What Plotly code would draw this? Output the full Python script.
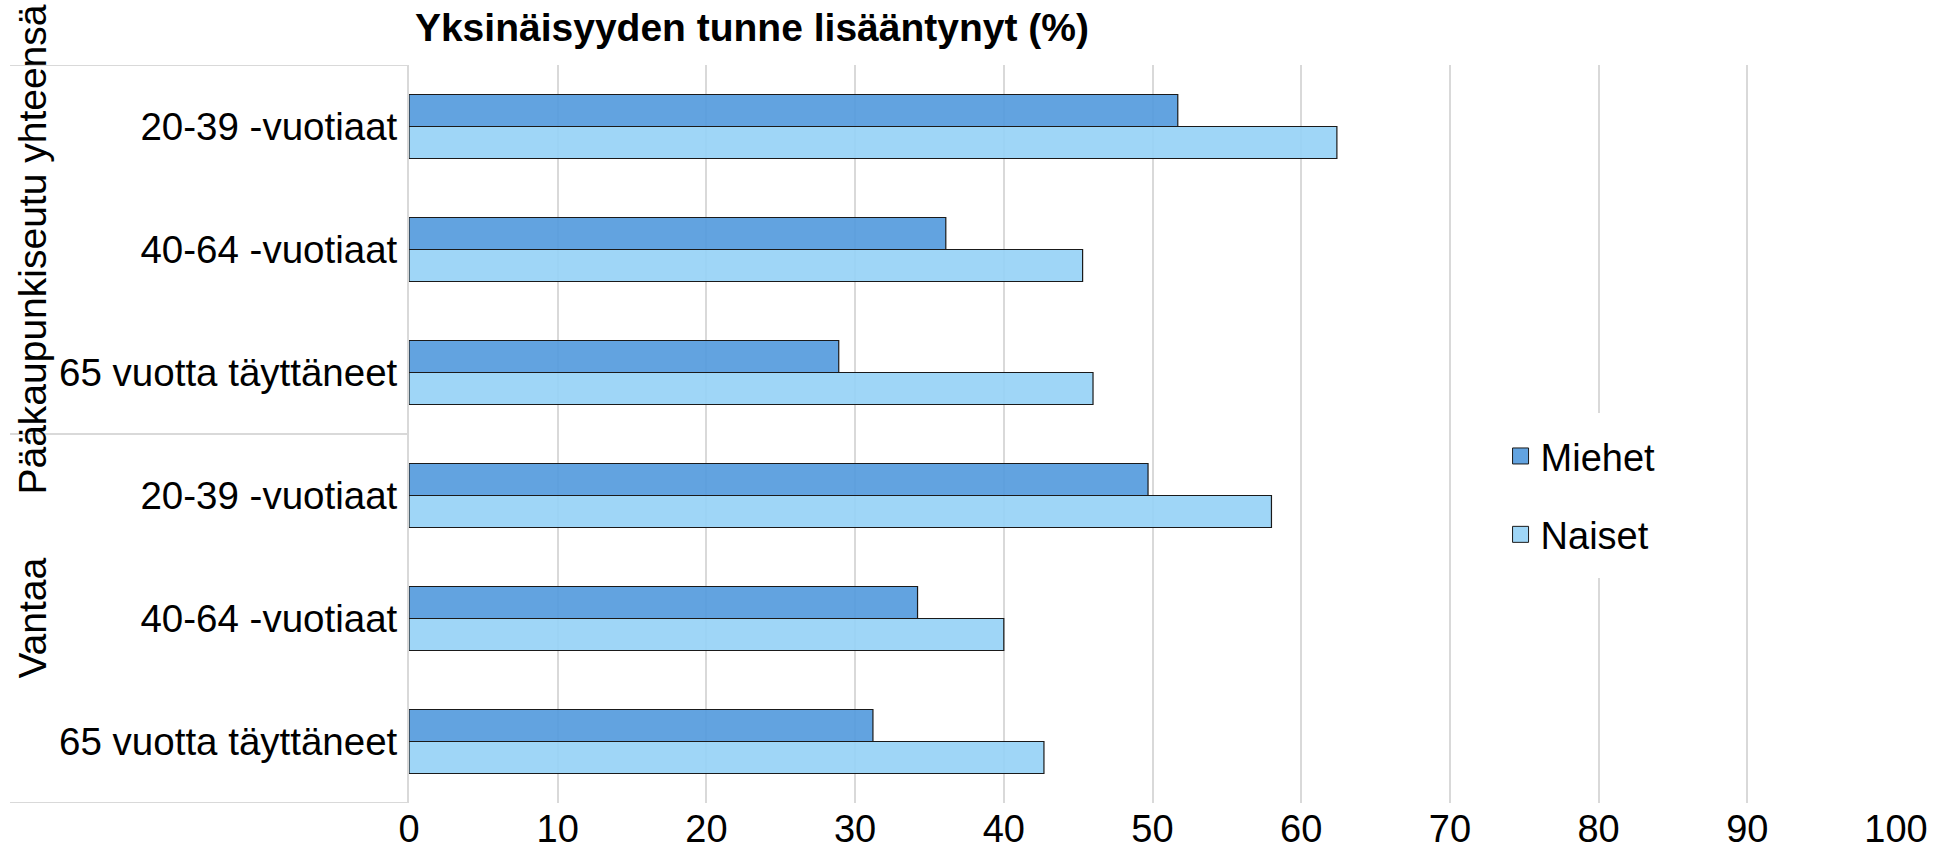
import plotly.graph_objects as go

groups = ['Pääkaupunkiseutu yhteensä', 'Vantaa']
ages = ['20-39 -vuotiaat', '40-64 -vuotiaat', '65 vuotta täyttäneet']
miehet = [51.7, 36.1, 28.9, 49.7, 34.2, 31.2]
naiset = [62.4, 45.3, 46.0, 58.0, 40.0, 42.7]
x_ticks = list(range(0, 101, 10))

# one category per (group, age) pair, shown with the age label only
keys = [g + ' / ' + a for g in groups for a in ages]
labels = [a for g in groups for a in ages]

FONT = 'Liberation Sans, Arial, sans-serif'
GRID = '#d9d9d9'
colors = {'Miehet': 'rgba(81,153,221,0.9)', 'Naiset': 'rgba(149,209,246,0.9)'}
OUTLINE = '#1a1a1a'

fig = go.Figure()
for name, vals in [('Miehet', miehet), ('Naiset', naiset)]:
    fig.add_trace(go.Bar(
        y=keys, x=vals, name=name, orientation='h', showlegend=False,
        marker=dict(color=colors[name], line=dict(color=OUTLINE, width=1.2))))

# legend entries with bigger square swatches
for name in ['Miehet', 'Naiset']:
    fig.add_trace(go.Scatter(
        x=[None], y=[None], name=name, mode='markers', legendgroup=name,
        marker=dict(symbol='square', size=16, color=colors[name],
                    line=dict(color=OUTLINE, width=1))))

# group labels on the left, rotated
annotations = []
for i, g in enumerate(groups):
    annotations.append(dict(
        text=g, textangle=-90, xref='paper', yref='y',
        x=-0.2535, y=keys[i * 3 + 1], xanchor='center', yanchor='middle',
        showarrow=False, font=dict(family=FONT, size=39, color='black')))

# separator lines between groups (left of the plot)
n = len(keys)
shapes = []
for b in [-0.5, len(ages) - 0.5, n - 0.5]:
    shapes.append(dict(type='line', xref='paper', yref='y',
                       x0=-0.2683, x1=0, y0=b, y1=b,
                       line=dict(color=GRID, width=2), layer='below'))

fig.update_layout(
    width=1943, height=850,
    margin=dict(l=409, r=47, t=65, b=47),
    paper_bgcolor='white', plot_bgcolor='white',
    font=dict(family=FONT, size=38, color='black'),
    title=dict(text='<b>Yksinäisyyden tunne lisääntynyt (%)</b>',
               xref='container', yref='container',
               x=0.387, y=1 - 27 / 850, xanchor='center', yanchor='middle',
               font=dict(family=FONT, size=39, color='black')),
    barmode='group', bargap=0.48, bargroupgap=0,
    showlegend=True,
    legend=dict(x=0.726, y=0.417, xanchor='left', yanchor='middle',
                bgcolor='white', bordercolor='white', borderwidth=12,
                tracegroupgap=26, traceorder='grouped', itemsizing='trace',
                font=dict(family=FONT, size=38, color='black')),
    annotations=annotations,
    shapes=shapes,
)
fig.update_xaxes(range=[0, 100], tickvals=x_ticks, showgrid=True,
                 gridcolor=GRID, gridwidth=1.5, zeroline=False,
                 showline=False, ticks='', ticklabelstandoff=0,
                 automargin=False)
fig.update_yaxes(range=[n - 0.5, -0.5], tickvals=keys, ticktext=labels,
                 showgrid=False, showline=True, linecolor=GRID, linewidth=2,
                 ticks='', ticklabelstandoff=2, zeroline=False,
                 tickfont=dict(size=38.5), automargin=False)

fig.write_html('out.html', config={'displayModeBar': False},
               post_script="document.body.style.margin='0';")
